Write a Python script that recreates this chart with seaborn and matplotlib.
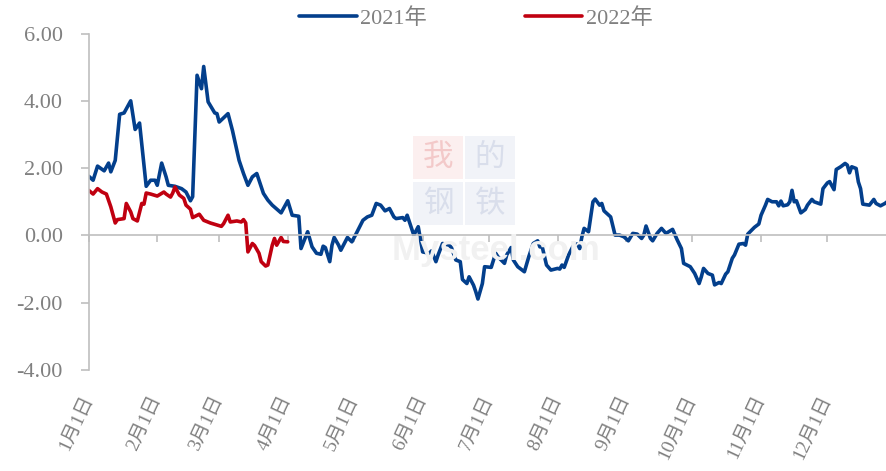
import pandas as pd
import seaborn as sns
import matplotlib.pyplot as plt
from matplotlib.patches import Rectangle
from matplotlib.ticker import FuncFormatter

# day of year (0 = Jan 1) and values
days_2021 = [0, 2, 4, 7, 9, 10, 12, 14, 16, 19, 21, 23, 26, 28, 30, 31, 33, 35, 36, 39,
             42, 44, 46, 47, 49, 51, 52, 54, 57, 58, 59, 63, 65, 68, 70, 72, 74, 76, 79, 81,
             83, 87, 90, 92, 95, 96, 99, 101, 103, 105, 106, 107, 109, 110, 111, 113, 114, 117, 119, 121,
             124, 126, 128, 130, 132, 134, 136, 138, 139, 142, 143, 144, 147, 149, 151, 154, 155, 157, 158, 160,
             163, 164, 166, 168, 169, 171, 172, 174, 175, 176, 178, 179, 182, 184, 185, 188, 189, 191, 192, 194,
             196, 197, 199, 201, 203, 204, 205, 207, 209, 212, 213, 214, 215, 217, 219, 221, 222, 223, 224, 226,
             228, 229, 231, 232, 233, 236, 238, 240, 242, 244, 246, 248, 250, 251, 252, 254, 255, 257, 259, 261,
             264, 266, 268, 269, 272, 274, 276, 277, 278, 280, 282, 283, 285, 286, 288, 289, 291, 292, 294, 296,
             297, 298, 301, 303, 304, 306, 307, 309, 311, 312, 313, 314, 316, 317, 318, 319, 320, 322, 324, 325,
             327, 328, 331, 332, 334, 335, 337, 338, 340, 342, 343, 344, 345, 347, 348, 349, 350, 353, 355, 356,
             358, 360, 361]
vals_2021 = [1.76, 1.64, 2.06, 1.92, 2.15, 1.89, 2.23, 3.60, 3.64, 4.00, 3.15, 3.34, 1.46, 1.64, 1.64, 1.49, 2.15, 1.74, 1.49, 1.46,
             1.39, 1.29, 1.03, 1.15, 4.76, 4.36, 5.02, 3.97, 3.64, 3.62, 3.37, 3.62, 3.12, 2.23, 1.84, 1.49, 1.74, 1.84, 1.25, 1.05,
             0.90, 0.67, 1.03, 0.60, 0.57, -0.39, 0.11, -0.34, -0.53, -0.56, -0.32, -0.36, -0.78, -0.29, -0.06, -0.29, -0.44, -0.06, -0.19, 0.06,
             0.45, 0.55, 0.60, 0.95, 0.90, 0.73, 0.80, 0.55, 0.50, 0.53, 0.45, 0.60, 0.01, 0.26, -0.49, -0.53, -0.46, -0.78, -0.58, -0.24,
             -0.29, -0.36, -0.73, -0.78, -1.31, -1.43, -1.23, -1.48, -1.67, -1.89, -1.43, -0.93, -0.95, -0.53, -0.63, -0.83, -0.58, -0.36, -0.73, -0.93,
             -1.03, -1.08, -0.63, -0.24, -0.16, -0.34, -0.32, -0.88, -1.03, -0.98, -1.00, -0.88, -0.95, -0.58, -0.32, -0.25, -0.39, -0.04, 0.21, 0.11,
             1.00, 1.08, 0.90, 0.95, 0.73, 0.55, 0.01, 0.01, -0.04, -0.16, 0.06, 0.04, -0.09, 0.01, 0.28, -0.09, -0.16, 0.06, 0.21, 0.06,
             0.18, -0.12, -0.39, -0.83, -0.93, -1.13, -1.43, -1.23, -0.98, -1.13, -1.18, -1.47, -1.40, -1.43, -1.15, -1.08, -0.68, -0.58, -0.26, -0.24,
             -0.29, 0.04, 0.24, 0.34, 0.60, 0.90, 1.07, 1.00, 1.00, 0.88, 1.02, 0.88, 0.91, 1.00, 1.34, 1.00, 1.03, 0.67, 0.77, 0.90,
             1.07, 1.00, 0.93, 1.39, 1.56, 1.60, 1.36, 1.96, 2.04, 2.14, 2.09, 1.86, 2.04, 1.99, 1.59, 1.39, 0.93, 0.90, 1.07, 0.95,
             0.88, 0.95, 1.00]

days_2022 = [0, 2, 4, 6, 8, 10, 12, 13, 16, 17, 19, 20, 22, 24, 25, 26, 28, 31, 34, 35,
             37, 38, 39, 41, 43, 44, 46, 47, 50, 52, 55, 58, 60, 61, 63, 64, 67, 69, 70, 71,
             72, 74, 75, 77, 78, 80, 81, 83, 84, 85, 87, 88, 90]
vals_2022 = [1.34, 1.23, 1.39, 1.29, 1.23, 0.85, 0.37, 0.47, 0.50, 0.95, 0.70, 0.50, 0.43, 0.95, 0.93, 1.26, 1.23, 1.17, 1.29, 1.23,
             1.14, 1.26, 1.44, 1.20, 1.10, 0.90, 0.78, 0.53, 0.63, 0.45, 0.37, 0.31, 0.27, 0.35, 0.60, 0.40, 0.43, 0.40, 0.47, 0.37,
             -0.49, -0.24, -0.30, -0.53, -0.78, -0.91, -0.88, -0.29, -0.09, -0.29, -0.06, -0.18, -0.19]

month_starts = list(pd.date_range('2021-01-01', periods=12, freq='MS').dayofyear - 1)
month_labels = [f'{m}月1日' for m in range(1, 13)]
y_ticks = [-4, -2, 0, 2, 4, 6]

blue = '#033f8c'
red = '#c00010'
axis_grey = '#bfbfbf'
text_grey = '#808080'

sns.set_style('white')
plt.rcParams['font.family'] = ['Liberation Serif', 'Noto Sans CJK SC']

fig = plt.figure(figsize=(8.86, 4.71), dpi=100)
ax = fig.add_axes([0.1001, 0.2144, 0.8999, 0.7144])
ax.patch.set_alpha(0)

# faint watermark
for (x0, y0, fc, tc, ch) in [(0.466, 0.620, '#fcefef', '#f3c9c9', '我'),
                             (0.5248, 0.620, '#f1f3f8', '#d9deeb', '的'),
                             (0.466, 0.522, '#f1f3f8', '#d9deeb', '钢'),
                             (0.5248, 0.522, '#f1f3f8', '#d9deeb', '铁')]:
    fig.patches.append(Rectangle((x0, y0), 0.0564, 0.0913, transform=fig.transFigure,
                                 facecolor=fc, edgecolor='none', zorder=0))
    fig.text(x0 + 0.0282, y0 + 0.0456, ch, ha='center', va='center', fontsize=22,
             color=tc, family='Noto Sans CJK SC', zorder=0)
fig.text(0.56, 0.468, 'Mysteel.com', ha='center', va='center', fontsize=25,
         fontweight='bold', family='Liberation Sans', color='#f1f1f1', zorder=0)

sns.lineplot(x=days_2021, y=vals_2021, color=blue, linewidth=2.6, label='2021年', ax=ax)
sns.lineplot(x=days_2022, y=vals_2022, color=red, linewidth=2.6, label='2022年', ax=ax)

ax.set_xlim(0, 360.5)
ax.set_ylim(-4, 6)
ax.set_yticks(y_ticks)
ax.yaxis.set_major_formatter(FuncFormatter(lambda v, p: f'{v:.2f}'))
ax.set_xlabel('')
ax.set_ylabel('')

for s in ['top', 'right']:
    ax.spines[s].set_visible(False)
ax.spines['left'].set_color(axis_grey)
ax.spines['left'].set_linewidth(1.2)
ax.spines['bottom'].set_position(('data', 0))
ax.spines['bottom'].set_color(axis_grey)
ax.spines['bottom'].set_linewidth(1.2)

ax.set_xticks(month_starts)
ax.tick_params(axis='x', bottom=True, direction='out', length=5, width=1.2, color=axis_grey,
               labelbottom=False)
ax.tick_params(axis='y', left=True, direction='out', length=5.5, width=1.2, color=axis_grey,
               labelcolor=text_grey, labelsize=16, pad=13)

# date labels sit below the plot, tick marks stay on the zero line
lab = ax.secondary_xaxis('bottom')
lab.set_xticks(month_starts)
lab.set_xticklabels(month_labels, rotation=65, ha='right', va='center', rotation_mode='anchor')
lab.tick_params(bottom=False, length=0, pad=19, labelcolor=text_grey, labelsize=14)
lab.spines['bottom'].set_visible(False)

ax.legend(loc='center', bbox_to_anchor=(0.537, 0.96), bbox_transform=fig.transFigure, ncol=2,
          frameon=False, handlelength=2.6, handletextpad=0.15, columnspacing=4.4,
          prop={'size': 16}, labelcolor=text_grey)

fig.savefig('out.png', dpi=100)
